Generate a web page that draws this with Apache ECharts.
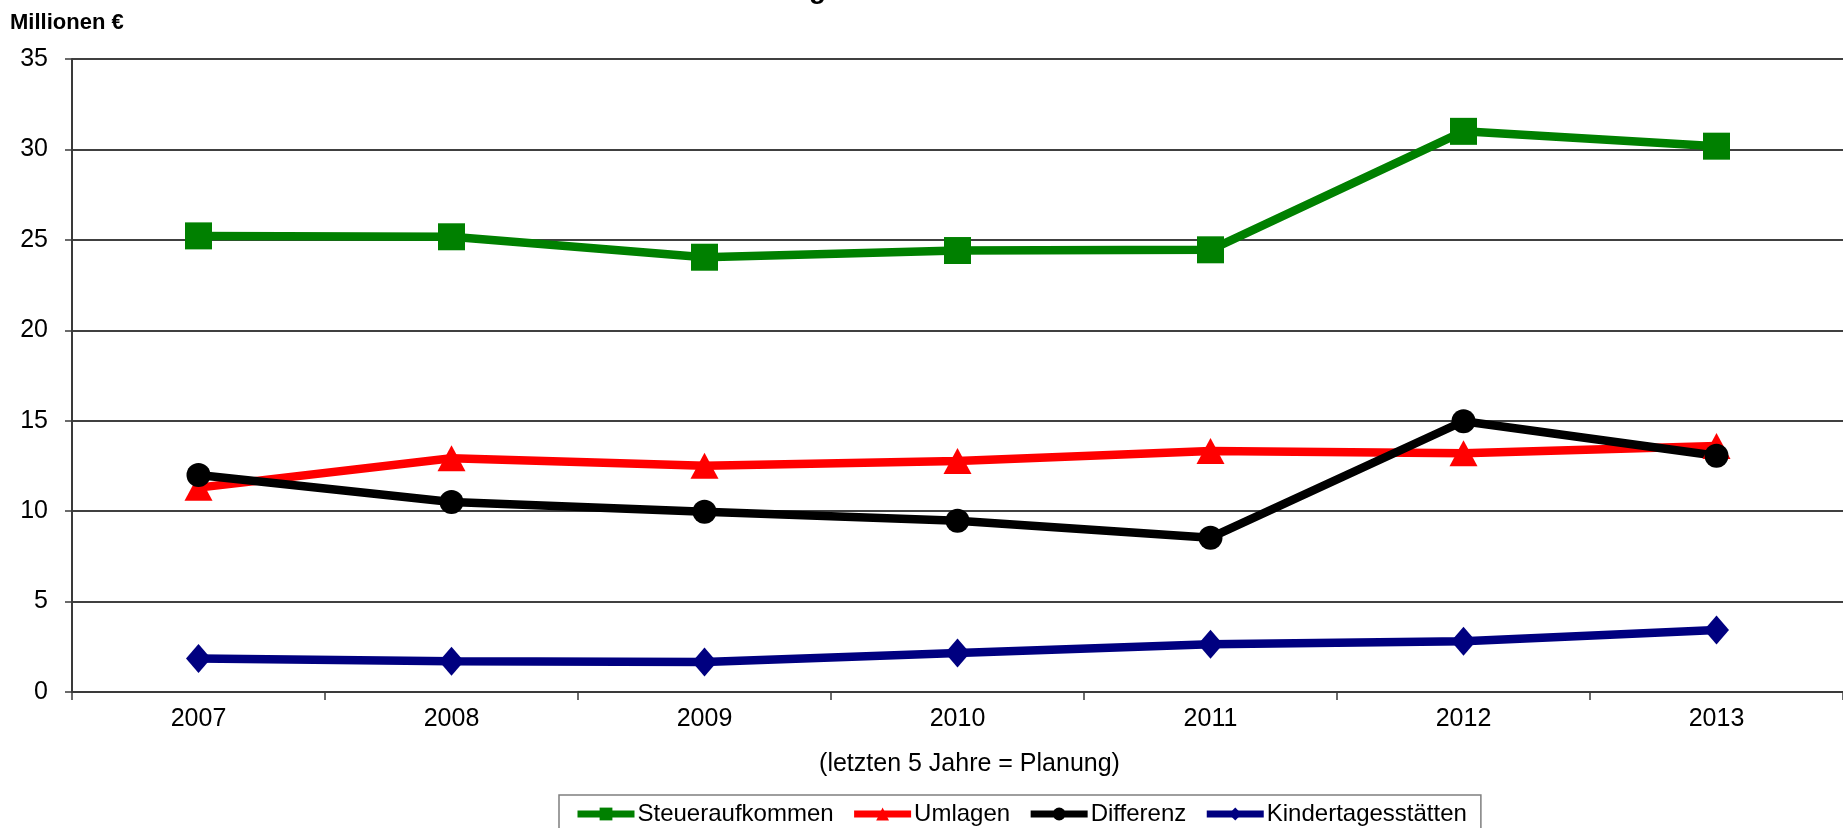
<!DOCTYPE html>
<html>
<head>
<meta charset="utf-8">
<title>Gesamtdarstellung</title>
<script src="https://cdn.jsdelivr.net/npm/echarts@6/dist/echarts.min.js"></script>
<style>
  html, body { margin: 0; padding: 0; background: #ffffff; }
  #chart { width: 1843px; height: 828px; }
</style>
</head>
<body>
<div id="chart"></div>
<script>
// Jahre und Werte in Millionen Euro
const years = ['2007', '2008', '2009', '2010', '2011', '2012', '2013'];
const steueraufkommen = [25.22, 25.17, 24.04, 24.41, 24.45, 31.0, 30.18];
const umlagen = [11.3, 12.92, 12.51, 12.77, 13.32, 13.2, 13.6];
const differenz = [12.0, 10.5, 9.97, 9.47, 8.53, 14.97, 13.06];
const kindertagesstaetten = [1.85, 1.70, 1.66, 2.16, 2.64, 2.81, 3.43];

const FONT = '"Liberation Sans", Arial, sans-serif';

const chart = echarts.init(document.getElementById('chart'), null, { renderer: 'canvas' });

function lineSeries(name, data, color, symbol, size) {
  return {
    name: name,
    type: 'line',
    data: data,
    symbol: symbol,
    symbolSize: size,
    showAllSymbol: true,
    lineStyle: { color: color, width: 8.5 },
    itemStyle: { color: color, borderWidth: 0 },
    emphasis: { disabled: true },
    animation: false
  };
}

chart.setOption({
  backgroundColor: '#ffffff',
  animation: false,
  title: {
    text: 'Gesamtdarstellung der Kreisfinanzen im Landkreis Kassel',
    left: 955,
    textAlign: 'center',
    top: -29,
    textStyle: { fontFamily: FONT, fontSize: 28, fontWeight: 'bold', color: '#000000' }
  },
  graphic: [{
    type: 'text',
    left: 10,
    top: 12,
    style: { text: 'Millionen €', fontFamily: FONT, fontSize: 22, fontWeight: 'bold', fill: '#000000' }
  }],
  legend: {
    data: ['Steueraufkommen', 'Umlagen', 'Differenz', 'Kindertagesstätten'],
    left: 559,
    top: 795,
    padding: [7, 14, 7, 15],
    itemWidth: 57,
    itemHeight: 16,
    itemGap: 17,
    borderColor: '#7f7f7f',
    borderWidth: 1.5,
    lineStyle: { width: 7 },
    textStyle: { fontFamily: FONT, fontSize: 24, color: '#000000', padding: [0, 0, 0, -2] }
  },
  grid: { left: 72, right: -7, top: 59, bottom: 136, containLabel: false },
  xAxis: {
    type: 'category',
    data: years,
    boundaryGap: true,
    name: '(letzten 5 Jahre = Planung)',
    nameLocation: 'middle',
    nameGap: 60,
    nameTextStyle: { fontFamily: FONT, fontSize: 25, color: '#000000', padding: [0, 0, 0, 24] },
    axisLine: { lineStyle: { color: '#3a3a3a', width: 2 } },
    axisTick: { show: true, length: 8, lineStyle: { color: '#3a3a3a', width: 1.5 } },
    axisLabel: { fontFamily: FONT, fontSize: 25, color: '#000000', margin: 15 },
    splitLine: { show: false }
  },
  yAxis: {
    type: 'value',
    min: 0,
    max: 35,
    interval: 5,
    axisLine: { show: true, lineStyle: { color: '#3a3a3a', width: 2 } },
    axisTick: { show: true, length: 7, lineStyle: { color: '#3a3a3a', width: 1.5 } },
    axisLabel: { fontFamily: FONT, fontSize: 25, color: '#000000', margin: 24 },
    splitLine: { show: true, lineStyle: { color: '#404040', width: 1.8 } }
  },
  series: [
    lineSeries('Steueraufkommen', steueraufkommen, '#008000', 'rect', 27),
    lineSeries('Umlagen', umlagen, '#ff0000', 'triangle', [28, 26]),
    lineSeries('Differenz', differenz, '#000000', 'circle', 24),
    lineSeries('Kindertagesstätten', kindertagesstaetten, '#000080', 'diamond', [25, 29])
  ]
});
</script>
</body>
</html>
